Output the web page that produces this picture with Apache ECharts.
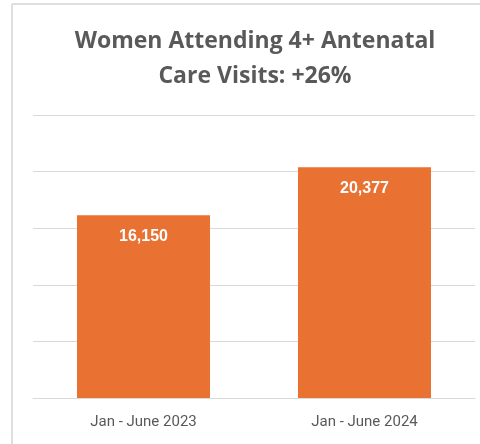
<!DOCTYPE html>
<html>
<head>
<meta charset="utf-8">
<script src="https://cdn.jsdelivr.net/npm/echarts@6/dist/echarts.min.js"></script>
<style>
  html, body { margin: 0; padding: 0; background: #ffffff; }
  #chart { width: 480px; height: 444px; }
</style>
</head>
<body>
<div id="chart"></div>
<script>
// Periods compared and the number of women attending 4+ antenatal care visits
const periods = ['Jan - June 2023', 'Jan - June 2024'];
const visits = [16150, 20377];
const titleLines = ['Women Attending 4+ Antenatal', 'Care Visits: +26%'];

const chart = echarts.init(document.getElementById('chart'), null, { renderer: 'canvas' });

chart.setOption({
  animation: false,
  backgroundColor: '#ffffff',
  title: {
    text: titleLines.join('\n'),
    left: 250,
    textAlign: 'center',
    top: 19,
    textStyle: {
      fontFamily: 'Open Sans',
      fontWeight: 'bold',
      fontSize: 23,
      lineHeight: 35,
      color: '#595959'
    }
  },
  graphic: [
    // frame edges of the chart area
    { type: 'line', shape: { x1: 12, y1: 4, x2: 480, y2: 4 }, style: { stroke: '#d4d4d4', lineWidth: 1.5 } },
    { type: 'line', shape: { x1: 12, y1: 4, x2: 12, y2: 444 }, style: { stroke: '#d4d4d4', lineWidth: 1.5 } }
  ],
  grid: { left: 33, right: 5, top: 115, bottom: 46, containLabel: false },
  xAxis: {
    type: 'category',
    data: periods,
    axisLine: { show: true, lineStyle: { color: '#d9d9d9', width: 1 } },
    axisTick: { show: false },
    axisLabel: {
      color: '#595959',
      fontFamily: 'Roboto',
      fontSize: 15,
      margin: 17
    }
  },
  yAxis: {
    type: 'value',
    min: 0,
    max: 25000,
    interval: 5000,
    axisLabel: { show: false },
    axisLine: { show: false },
    axisTick: { show: false },
    splitLine: { lineStyle: { color: '#d9d9d9', width: 1 } }
  },
  series: [{
    type: 'bar',
    data: visits,
    barWidth: 133,
    itemStyle: { color: '#E97132' },
    label: {
      show: true,
      position: 'insideTop',
      distance: 13,
      color: '#ffffff',
      fontFamily: 'Liberation Sans',
      fontWeight: 'bold',
      fontSize: 16,
      formatter: p => p.value.toLocaleString('en-US')
    }
  }]
});
</script>
</body>
</html>
